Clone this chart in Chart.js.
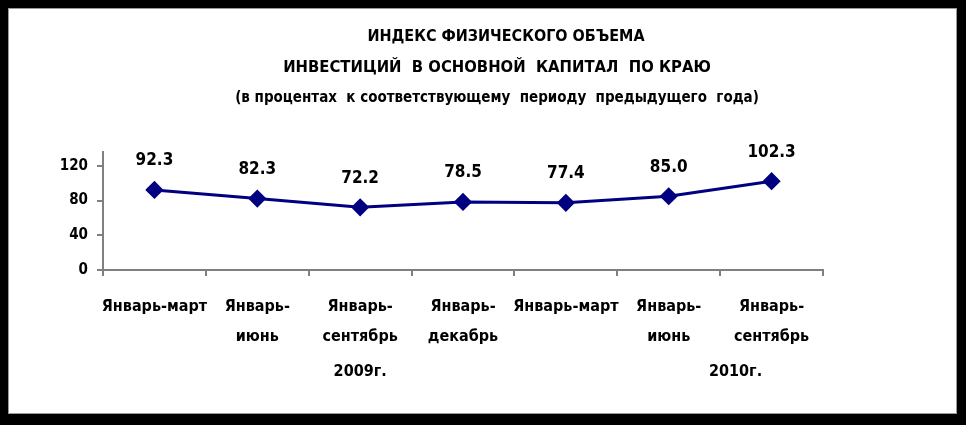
<!DOCTYPE html>
<html>
<head>
<meta charset="utf-8">
<script src="https://cdn.jsdelivr.net/npm/chart.js"></script>
<style>
html, body { margin: 0; padding: 0; background: #000; }
#box { position: absolute; left: 8px; top: 8px; width: 949px; height: 406px; background: #fff; box-shadow: inset 0 0 0 1px #999; }
canvas { display: block; }
</style>
</head>
<body>
<div id="box"><canvas id="chart-one" width="949" height="406"></canvas></div>
<script>
var periods = [["Январь-март"], ["Январь-", "июнь"], ["Январь-", "сентябрь"], ["Январь-", "декабрь"],
               ["Январь-март"], ["Январь-", "июнь"], ["Январь-", "сентябрь"]];
var values = [92.3, 82.3, 72.2, 78.5, 77.4, 85.0, 102.3];
var yTicks = [0, 40, 80, 120];
var years = ["2009г.", "2010г."];
var yearAt = [2, 5.65];
var titleLines = ["ИНДЕКС ФИЗИЧЕСКОГО ОБЪЕМА",
                  "ИНВЕСТИЦИЙ  В ОСНОВНОЙ  КАПИТАЛ  ПО КРАЮ",
                  "(в процентах  к соответствующему  периоду  предыдущего  года)"];
var titleSizes = [16, 16.5, 15];

var FONT = "'Liberation Sans Narrow', 'Arial Narrow', 'DejaVu Sans Condensed', sans-serif";

// title, value labels and year captions
var extras = {
  id: "extras",
  afterDraw: function (chart) {
    var ctx = chart.ctx;
    ctx.save();
    ctx.fillStyle = "#000";
    ctx.textAlign = "center";
    ctx.textBaseline = "middle";
    titleLines.forEach(function (t, i) {
      ctx.font = "bold " + titleSizes[i] + "px " + FONT;
      ctx.fillText(t, i == 0 ? 498 : 489, 29 + i * 30.5);
    });

    ctx.font = "bold 17px " + FONT;
    var meta = chart.getDatasetMeta(0);
    meta.data.forEach(function (pt, i) {
      ctx.fillText(values[i].toFixed(1), pt.x, pt.y - 29);
    });

    var xs = chart.scales.x;
    ctx.font = "bold 16px " + FONT;
    years.forEach(function (y, i) {
      ctx.fillText(y, xs.getPixelForValue(yearAt[i]), chart.chartArea.bottom + 102);
    });
    ctx.restore();
  }
};

new Chart("chart-one", {
  type: "line",
  data: {
    labels: periods,
    datasets: [{
      data: values,
      borderColor: "#000080",
      backgroundColor: "#000080",
      borderWidth: 3,
      pointStyle: "rectRot",
      pointRadius: 7,
      pointHoverRadius: 7,
      tension: 0,
      fill: false
    }]
  },
  options: {
    responsive: false,
    animation: false,
    layout: { padding: { left: 40, right: 134, top: 144, bottom: 44 } },
    plugins: { legend: { display: false }, tooltip: { enabled: false } },
    scales: {
      x: {
        offset: true,
        afterFit: function (s) { s.height = 100; },
        border: { color: "#808080", width: 2 },
        grid: { offset: true, drawOnChartArea: false, color: "#808080", lineWidth: 2, tickLength: 6 },
        ticks: {
          color: "#000",
          maxRotation: 0,
          autoSkip: false,
          padding: 16,
          font: { family: FONT, size: 16, weight: "bold", lineHeight: "30px" }
        }
      },
      y: {
        min: 0,
        max: 136,
        afterFit: function (s) { s.width = 55; },
        afterBuildTicks: function (s) {
          s.ticks = yTicks.map(function (v) { return { value: v }; });
        },
        border: { color: "#808080", width: 2 },
        grid: { drawOnChartArea: false, color: "#808080", lineWidth: 2, tickLength: 6 },
        ticks: {
          color: "#000",
          padding: 9,
          font: { family: FONT, size: 15, weight: "bold" }
        }
      }
    }
  },
  plugins: [extras]
});
</script>
</body>
</html>
